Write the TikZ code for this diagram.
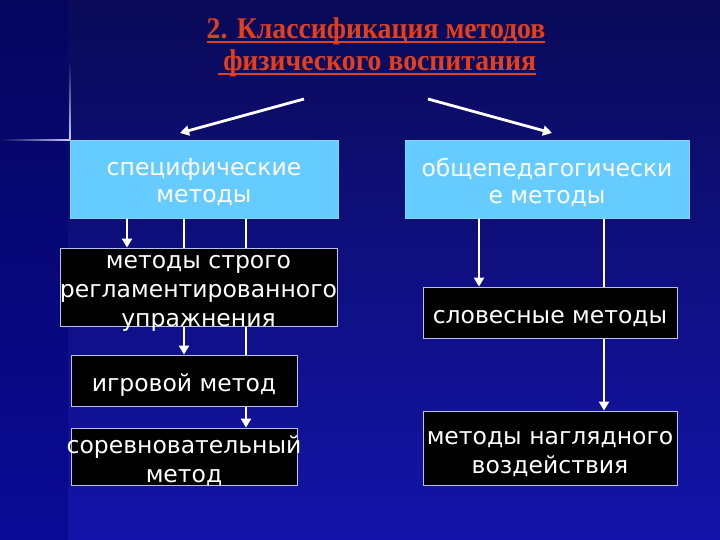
\documentclass[tikz,border=0pt]{standalone}
\usepackage{fontspec}
\setmainfont{DejaVu Sans}
\newfontfamily\titlefont{Liberation Serif}
\usetikzlibrary{arrows.meta,calc}
\definecolor{bgtop}{HTML}{0A0A58}
\definecolor{bgbot}{HTML}{1414AA}
\definecolor{stripTop}{HTML}{05055E}
\definecolor{stripBot}{HTML}{0A0A96}
\definecolor{lightbox}{HTML}{66CCFF}
\definecolor{titlered}{HTML}{E0401E}
\definecolor{boxedge}{HTML}{B8C0F0}
\pgfdeclarelayer{back}
\pgfsetlayers{back,main}
\tikzset{
  lbox/.style={draw=lightbox!80!white, line width=0.6pt, fill=lightbox, inner sep=0pt},
  dbox/.style={draw=boxedge, line width=0.8pt, fill=black, inner sep=0pt},
  btext/.style={text=white, align=center, inner sep=0pt, yshift=-6pt, font=\fontsize{23.5}{29}\selectfont},
  ltext/.style={text=white, align=center, inner sep=0pt, yshift=-3pt, font=\fontsize{23.5}{27}\selectfont},
  ttl/.style={text=titlered, inner sep=0pt, anchor=base, xscale=0.925, font=\titlefont\bfseries\fontsize{30}{36}\selectfont},
  arr/.style={draw=white, line width=2.8pt, -{Triangle[width=10pt,length=9pt]}},
  uline/.style={draw=titlered, line width=1.6pt}
}
\begin{document}
\begin{tikzpicture}[x=1pt,y=-1pt]
\useasboundingbox (0,0) rectangle (720,540);
% title
\node[ttl] (T1) at (376,39) {2. Классификация методов};
\node[ttl] (T2) at (377,71) {\hspace*{6pt}физического воспитания};
% boxes
\node[lbox, minimum width=268pt, minimum height=78pt] (L) at (204,179) {};
\node[ltext] (Lt) at (L) {специфические\\методы};
\node[lbox, minimum width=284pt, minimum height=78pt] (R) at (547,179) {};
\node[ltext] (Rt) at (R) {общепедагогически\\е методы};
\node[dbox, minimum width=277pt, minimum height=78pt] (B1) at (198.5,287) {};
\node[btext] (B1t) at (B1) {методы строго\\регламентированного\\упражнения};
\node[dbox, minimum width=226pt, minimum height=51pt] (B2) at (184,380.5) {};
\node[btext, yshift=1pt] (B2t) at (B2) {игровой метод};
\node[dbox, minimum width=226pt, minimum height=57pt] (B3) at (184,456.5) {};
\node[btext, yshift=1.5pt] (B3t) at (B3) {соревновательный\\метод};
\node[dbox, minimum width=254pt, minimum height=51pt] (R1) at (550,312.5) {};
\node[btext] (R1t) at (R1) {словесные методы};
\node[dbox, minimum width=254pt, minimum height=74pt] (R2) at (550,448) {};
\node[btext] (R2t) at (R2) {методы наглядного\\воздействия};
% helper coordinates
\coordinate (xa) at (127,0);
\coordinate (xb) at (184,0);
\coordinate (xc) at (246,0);
\coordinate (xd) at (479,0);
\coordinate (xe) at (604,0);
\coordinate (s1) at (304,99);
\coordinate (e1) at (180,133);
\coordinate (s2) at (428,99);
\coordinate (e2) at (552,133);
\begin{pgfonlayer}{back}
  \shade[top color=bgtop, bottom color=bgbot] (0,0) rectangle (720,540);
  \shade[top color=stripTop, bottom color=stripBot] (0,0) rectangle (68,540);
  \shade[top color=bgtop, bottom color=white!80!blue] (69.3,60) rectangle (70.7,140);
  \shade[left color=stripTop, right color=white!80!blue] (0,139.3) rectangle (70,140.7);
  \draw[arr] (L.south -| xa) -- (B1.north -| xa);
  \draw[arr] (L.south -| xb) -- (B2.north -| xb);
  \draw[arr] (L.south -| xc) -- (B3.north -| xc);
  \draw[arr] (R.south -| xd) -- (R1.north -| xd);
  \draw[arr] (R.south -| xe) -- (R2.north -| xe);
\end{pgfonlayer}
\draw[arr] (s1) -- (e1);
\draw[arr] (s2) -- (e2);
\draw[uline] ([yshift=-3pt]T1.base west) -- ([yshift=-3pt]T1.base east);
\draw[uline] ([yshift=-3pt]T2.base west) -- ([yshift=-3pt]T2.base east);
\end{tikzpicture}
\end{document}
